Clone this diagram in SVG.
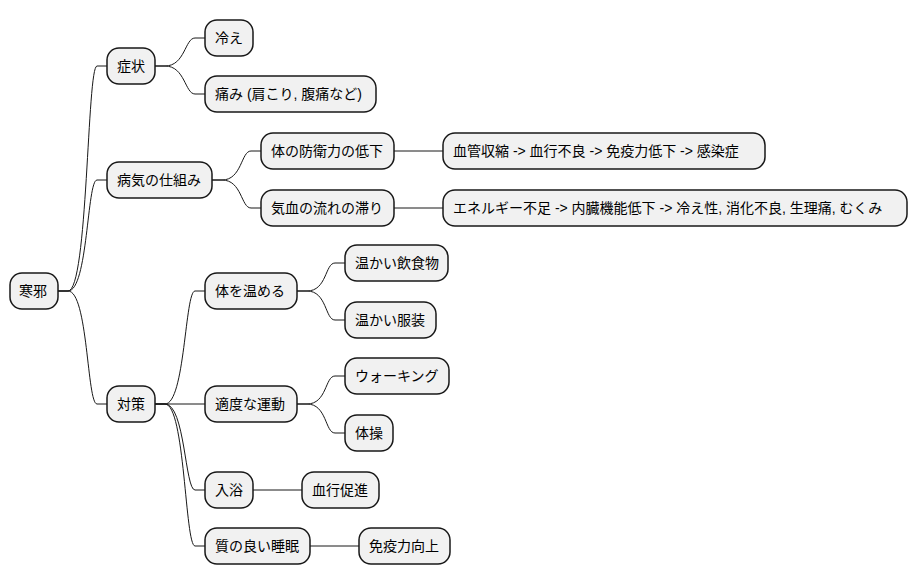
<svg xmlns="http://www.w3.org/2000/svg" width="917" height="583" viewBox="0 0 917 583">
<style>
.n rect{fill:#F1F1F1;stroke:#181818;stroke-width:1.5}
.n text{font-family:"Liberation Sans","Noto Sans CJK JP",sans-serif;font-size:14px;fill:#000;dominant-baseline:central}
#c path{fill:none;stroke:#181818;stroke-width:1}
</style>
<rect width="917" height="583" fill="#fff"/>
<g id="c">
<path d="M58,291 L68,291 C88,291 87,66 97,66 L107,66"/>
<path d="M58,291 L68,291 C88,291 87,180 97,180 L107,180"/>
<path d="M58,291 L68,291 C88,291 87,404 97,404 L107,404"/>
<path d="M155,66 L165,66 C185,66 185,38 195,38 L205,38"/>
<path d="M155,66 L165,66 C185,66 185,94 195,94 L205,94"/>
<path d="M212,180 L222,180 C242,180 241,151 251,151 L261,151"/>
<path d="M212,180 L222,180 C242,180 241,208 251,208 L261,208"/>
<path d="M394,151 L443,151"/>
<path d="M394,208 L443,208"/>
<path d="M155,404 L165,404 C185,404 185,291 195,291 L205,291"/>
<path d="M155,404 L205,404"/>
<path d="M155,404 L165,404 C185,404 185,490 195,490 L205,490"/>
<path d="M155,404 L165,404 C185,404 185,546 195,546 L205,546"/>
<path d="M297,291 L307,291 C327,291 325,263 335,263 L345,263"/>
<path d="M297,291 L307,291 C327,291 325,320 335,320 L345,320"/>
<path d="M297,404 L307,404 C327,404 325,376 335,376 L345,376"/>
<path d="M297,404 L307,404 C327,404 325,433 335,433 L345,433"/>
<path d="M253,490 L302,490"/>
<path d="M310,546 L359,546"/>
</g>
<g id="root" class="n"><rect x="10" y="273" width="48" height="36" rx="12"/><text x="19" y="291">寒邪</text></g>
<g id="shojo" class="n"><rect x="107" y="48" width="48" height="36" rx="12"/><text x="117" y="66">症状</text></g>
<g id="hie" class="n"><rect x="205" y="20" width="48" height="36" rx="12"/><text x="215" y="38">冷え</text></g>
<g id="itami" class="n"><rect x="205" y="76" width="171" height="36" rx="12"/><text x="215" y="94">痛み (肩こり, 腹痛など)</text></g>
<g id="shikumi" class="n"><rect x="107" y="162" width="105" height="36" rx="12"/><text x="117" y="180">病気の仕組み</text></g>
<g id="bouei" class="n"><rect x="261" y="133" width="133" height="36" rx="12"/><text x="271" y="151">体の防衛力の低下</text></g>
<g id="kekkan" class="n"><rect x="443" y="133" width="322" height="36" rx="12"/><text x="453" y="151">血管収縮 -&gt; 血行不良 -&gt; 免疫力低下 -&gt; 感染症</text></g>
<g id="kiketsu" class="n"><rect x="261" y="190" width="133" height="36" rx="12"/><text x="271" y="208">気血の流れの滞り</text></g>
<g id="energy" class="n"><rect x="443" y="190" width="464" height="36" rx="12"/><text x="453" y="208">エネルギー不足 -&gt; 内臓機能低下 -&gt; 冷え性, 消化不良, 生理痛, むくみ</text></g>
<g id="taisaku" class="n"><rect x="107" y="386" width="48" height="36" rx="12"/><text x="117" y="404">対策</text></g>
<g id="atatameru" class="n"><rect x="205" y="273" width="92" height="36" rx="12"/><text x="215" y="291">体を温める</text></g>
<g id="inshoku" class="n"><rect x="345" y="245" width="103" height="36" rx="12"/><text x="355" y="263">温かい飲食物</text></g>
<g id="fukusou" class="n"><rect x="345" y="302" width="91" height="36" rx="12"/><text x="355" y="320">温かい服装</text></g>
<g id="undou" class="n"><rect x="205" y="386" width="92" height="36" rx="12"/><text x="215" y="404">適度な運動</text></g>
<g id="walking" class="n"><rect x="345" y="358" width="104" height="36" rx="12"/><text x="355" y="376">ウォーキング</text></g>
<g id="taisou" class="n"><rect x="345" y="415" width="48" height="36" rx="12"/><text x="355" y="433">体操</text></g>
<g id="nyuyoku" class="n"><rect x="205" y="472" width="48" height="36" rx="12"/><text x="215" y="490">入浴</text></g>
<g id="kekkou" class="n"><rect x="302" y="472" width="77" height="36" rx="12"/><text x="312" y="490">血行促進</text></g>
<g id="suimin" class="n"><rect x="205" y="528" width="105" height="36" rx="12"/><text x="215" y="546">質の良い睡眠</text></g>
<g id="meneki" class="n"><rect x="359" y="528" width="91" height="36" rx="12"/><text x="369" y="546">免疫力向上</text></g>
</svg>
